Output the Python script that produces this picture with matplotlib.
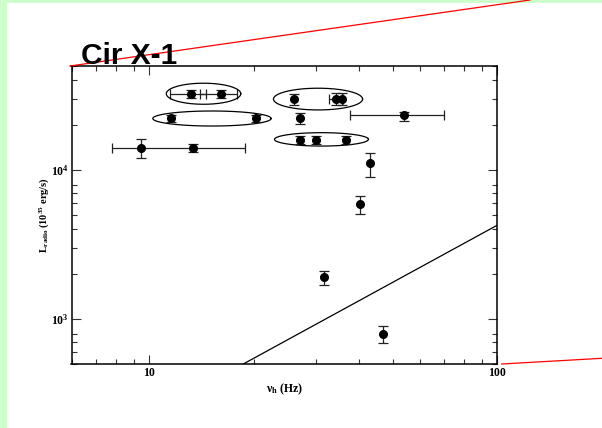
import numpy as np
import matplotlib
matplotlib.use("Agg")
import matplotlib.pyplot as plt
from matplotlib.lines import Line2D
from matplotlib.patches import Rectangle
from matplotlib.ticker import FixedLocator, LogLocator, NullFormatter, FixedFormatter

plt.rcParams['mathtext.fontset'] = 'custom'
plt.rcParams['mathtext.rm'] = 'Liberation Serif:bold'
plt.rcParams['mathtext.it'] = 'Liberation Serif:bold'
plt.rcParams['mathtext.bf'] = 'Liberation Serif:bold'

# hectohertz QPO frequency (Hz) vs radio luminosity (1e35 erg/s)
nu = [13.15, 16.0, 11.55, 20.2, 9.47, 13.3, 26.1, 34.4, 35.7, 27.0,
      27.0, 30.0, 36.8, 53.7, 43.1, 40.2, 31.7, 46.9]
L = [32300, 32300, 22300, 22300, 14000, 14150, 30230, 30230, 30230, 22300,
     15920, 15920, 15920, 23340, 11090, 5900, 1905, 800]
L_lo = [30400, 30400, 21170, 21170, 12120, 13310, 27370, 27400, 27400, 20300,
        14890, 14890, 14890, 21500, 9030, 5110, 1702, 696]
L_hi = [34360, 34360, 23450, 23450, 16100, 14890, 32660, 32700, 32700, 24080,
        16940, 16940, 16940, 24720, 13100, 6680, 2113, 906]

# points with a frequency range
xerr_idx = [0, 1, 5, 7, 13]
nu_lo = [11.47, 13.99, 7.80, 32.8, 37.6]
nu_hi = [14.56, 17.83, 18.84, 36.0, 70.0]

# straight line (power law)
line_nu = [18.6, 100]
line_L = [500, 4280]

# groups circled: centre nu, centre L, half-width and half-height in decades
ell_nu = [14.3, 15.12, 30.5, 31.2]
ell_L = [32570, 22210, 29990, 16090]
ell_w = [0.107, 0.170, 0.128, 0.135]
ell_h = [0.0707, 0.0505, 0.073, 0.045]

fig = plt.figure(figsize=(6.02, 4.28), dpi=100)
fig.patch.set_facecolor('white')

# slide decoration
green = '#ccffcc'
fig.add_artist(Rectangle((0, 0), 7.3 / 602, 1, transform=fig.transFigure, color=green, lw=0))
fig.add_artist(Rectangle((0, 1 - 2.7 / 428), 1, 2.7 / 428, transform=fig.transFigure, color=green, lw=0))
fig.add_artist(Line2D([70 / 602, 530 / 602], [1 - 66 / 428, 1.0], transform=fig.transFigure,
                      color='red', lw=0.9))
fig.add_artist(Line2D([501.7 / 602, 1.0], [1 - 364 / 428, 1 - 358.3 / 428], transform=fig.transFigure,
                      color='red', lw=0.9))

fig.text(81 / 602, 1 - 63.5 / 428, 'Cir X-1', family='Liberation Sans', weight='bold',
         fontsize=21.5, ha='left', va='baseline')

ax = fig.add_axes([71.5 / 602, 1 - 364 / 428, 426 / 602, 298 / 428])
ax.set_xscale('log')
ax.set_yscale('log')
ax.set_xlim(5.97, 100)
ax.set_ylim(500, 50000)

nu_a = np.array(nu)
L_a = np.array(L)
ax.errorbar(nu_a, L_a, yerr=[L_a - np.array(L_lo), np.array(L_hi) - L_a], fmt='o',
            color='black', ms=5.5, ecolor='#222222', elinewidth=0.9, capsize=3.5,
            capthick=0.9, zorder=3)
xs = nu_a[xerr_idx]
ax.errorbar(xs, L_a[xerr_idx], xerr=[xs - np.array(nu_lo), np.array(nu_hi) - xs], fmt='none',
            ecolor='#222222', elinewidth=0.9, capsize=3.5, capthick=0.9, zorder=2)

ax.plot(line_nu, line_L, color='black', lw=0.9)

t = np.linspace(0, 2 * np.pi, 200)
for cx, cy, w, h in zip(ell_nu, ell_L, ell_w, ell_h):
    ex = 10 ** (np.log10(cx) + w * np.cos(t))
    ey = 10 ** (np.log10(cy) + h * np.sin(t))
    ax.plot(ex, ey, color='black', lw=0.9)

ax.xaxis.set_major_locator(FixedLocator([10, 100]))
ax.xaxis.set_major_formatter(FixedFormatter(['10', '100']))
ax.xaxis.set_minor_locator(LogLocator(base=10, subs=(2, 3, 4, 5, 6, 7, 8, 9)))
ax.xaxis.set_minor_formatter(NullFormatter())
ax.yaxis.set_major_locator(FixedLocator([1000, 10000]))
ax.yaxis.set_major_formatter(FixedFormatter([r'$10^3$', r'$10^4$']))
ax.yaxis.set_minor_locator(LogLocator(base=10, subs=(2, 3, 4, 5, 6, 7, 8)))
ax.yaxis.set_minor_formatter(NullFormatter())

ax.tick_params(which='both', direction='in', top=True, right=True, width=0.8, color='#333333')
ax.tick_params(which='major', length=6.5, pad=2)
ax.tick_params(which='minor', length=3.5)
for lab in ax.get_xticklabels() + ax.get_yticklabels():
    lab.set_family('Liberation Serif')
    lab.set_weight('bold')
    lab.set_fontsize(8.5)
for s in ax.spines.values():
    s.set_linewidth(1.1)

ax.set_xlabel(r'$\nu_h\ (Hz)$', fontsize=8.5, labelpad=2)
ax.set_ylabel(r'$L_{radio}\,(10^{35}\ erg/s)$', fontsize=7.5, labelpad=0)

fig.savefig('out.png', dpi=100)
